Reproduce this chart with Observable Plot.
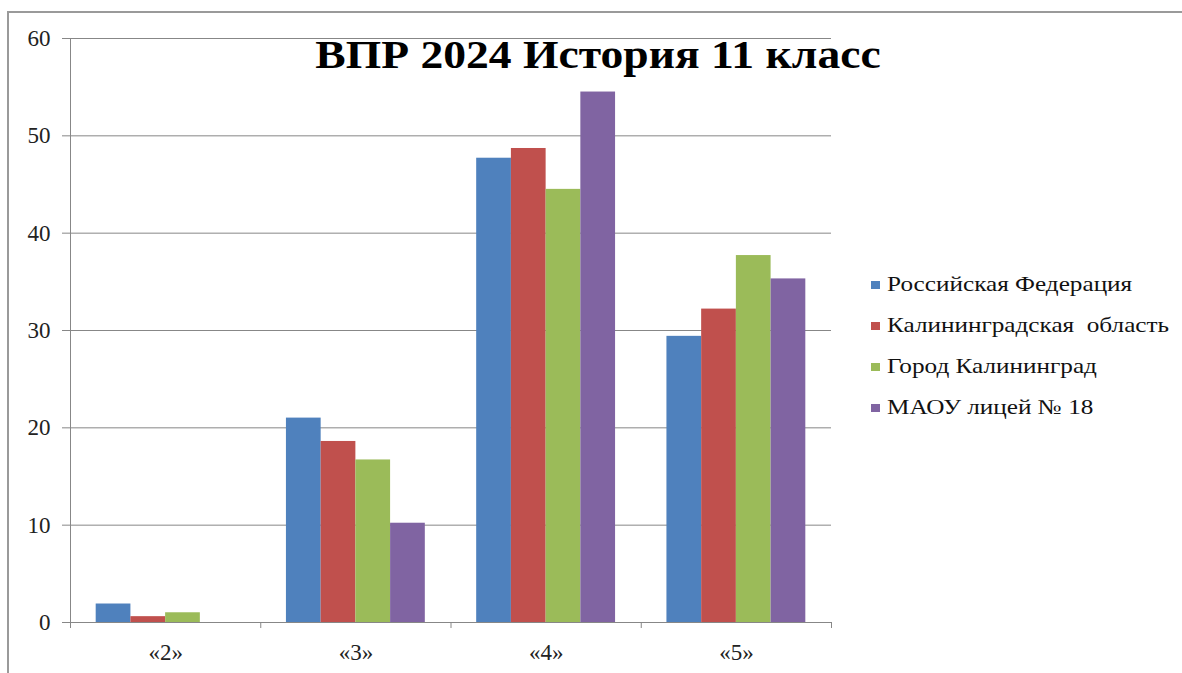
<!DOCTYPE html>
<html>
<head>
<meta charset="utf-8">
<script src="https://cdn.jsdelivr.net/npm/d3@7"></script>
<script src="https://cdn.jsdelivr.net/npm/@observablehq/plot@0.6"></script>
<style>
  html, body { margin: 0; padding: 0; background: #fff; }
  #wrap { position: relative; width: 1182px; height: 673px; overflow: hidden; background: #fff; }
  #frame { position: absolute; left: 7px; top: 11px; width: 1180px; height: 670px;
           border-top: 2px solid #9a9a9a; border-left: 2px solid #9a9a9a; }
  #chart { position: absolute; left: 0; top: 0; }
  #title { position: absolute; left: 0; top: 35px; width: 1196px; text-align: center;
           font-family: "Liberation Serif", "DejaVu Serif", serif; font-weight: bold;
           font-size: 40px; line-height: 40px; color: #000; white-space: nowrap;
           transform: scaleX(1.14); transform-origin: 598px 0; }
  #legend { position: absolute; left: 871px; top: 264px; }
  .row { display: flex; align-items: center; height: 41px; white-space: pre; }
  .sw { width: 9px; height: 8px; margin-right: 7px; flex: none; }
  .lab { font-family: "Liberation Serif", "DejaVu Serif", serif; font-weight: normal; font-size: 21px; color: #111;
         transform: scaleX(1.2); transform-origin: 0 50%; }
  #chart svg text { font-family: "Liberation Serif", "DejaVu Serif", serif; }
</style>
</head>
<body>
<div id="wrap">
  <div id="frame"></div>
  <div id="chart"></div>
  <div id="title"></div>
  <div id="legend"></div>
</div>
<script>
// ---- data ----
const titleText = "ВПР 2024 История 11 класс";
const categories = ["«2»", "«3»", "«4»", "«5»"];
const seriesNames = ["Российская Федерация", "Калининградская  область", "Город Калининград", "МАОУ лицей № 18"];
const rf   = [1.9, 21.0, 47.7, 29.4];
const ko   = [0.6, 18.6, 48.7, 32.2];
const city = [1.0, 16.7, 44.5, 37.7];
const maou = [0.0, 10.2, 54.5, 35.3];
const colors = ["#4F81BD", "#C0504D", "#9BBB59", "#8064A2"];
const yTicks = [0, 10, 20, 30, 40, 50, 60];

// ---- build table ----
const seriesValues = [rf, ko, city, maou];
const rows = [];
seriesValues.forEach((vals, s) => {
  vals.forEach((v, i) => rows.push({series: seriesNames[s], s, i, cat: categories[i], value: v}));
});

const outerGap = 0.135;          // fraction of each category slot left empty on each side
const barW = (1 - 2 * outerGap) / seriesNames.length;
const boundaries = d3.range(categories.length + 1);
const centers = categories.map((c, i) => i + 0.5);
const grey = "#878787";
const font = "Liberation Serif";

const chart = Plot.plot({
  width: 1182,
  height: 673,
  marginTop: 38,
  marginBottom: 51,
  marginLeft: 70,
  marginRight: 351,
  style: {background: "transparent", fontFamily: font, fontSize: "23px"},
  x: {type: "linear", domain: [0, categories.length], axis: null},
  y: {domain: [0, 60], axis: null},
  color: {domain: seriesNames, range: colors},
  marks: [
    Plot.gridY(yTicks, {stroke: grey, strokeOpacity: 1}),
    Plot.ruleX([0], {stroke: grey}),
    Plot.axisY({ticks: yTicks, label: null, tickSize: 8, tickPadding: 12, fontSize: 23,
                stroke: grey, fill: "#222"}),
    Plot.axisX({ticks: boundaries, label: null, tickSize: 6, tickFormat: () => "", stroke: grey}),
    Plot.axisX({ticks: centers, label: null, tickSize: 0, tickPadding: 21, fontSize: 23,
                fill: "#222", tickFormat: (v) => categories[Math.floor(v)]}),
    Plot.rectY(rows, {
      x1: (d) => d.i + outerGap + d.s * barW,
      x2: (d) => d.i + outerGap + (d.s + 1) * barW,
      y1: 0,
      y2: "value",
      fill: "series"
    })
  ]
});
document.getElementById("chart").appendChild(chart);
document.getElementById("title").textContent = titleText;

const legend = document.getElementById("legend");
seriesNames.forEach((name, s) => {
  const row = document.createElement("div");
  row.className = "row";
  const sw = document.createElement("div");
  sw.className = "sw";
  sw.style.background = colors[s];
  const lab = document.createElement("div");
  lab.className = "lab";
  lab.textContent = name;
  row.appendChild(sw);
  row.appendChild(lab);
  legend.appendChild(row);
});
</script>
</body>
</html>
